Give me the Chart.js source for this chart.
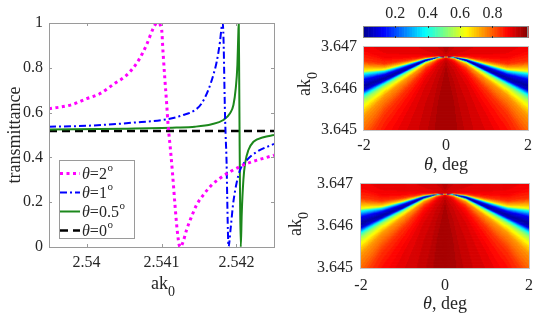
<!DOCTYPE html>
<html><head><meta charset="utf-8">
<script src="https://cdn.jsdelivr.net/npm/chart.js@4.4.0/dist/chart.umd.min.js"></script>
<style>
html,body{margin:0;padding:0;background:#fff;}
#wrap{position:relative;width:556px;height:326px;overflow:hidden;background:#fff;}
#wrap canvas{position:absolute;left:0;top:0;width:556px;height:326px;}
</style></head><body>
<div id="wrap">
<canvas id="cLine" width="556" height="326"></canvas>
<canvas id="cHeatTop" width="556" height="326"></canvas>
<canvas id="cHeatBot" width="556" height="326"></canvas>
<canvas id="cBar" width="556" height="326"></canvas>
</div>
<script>
// ---------------- Left panel: transmittance vs ak0 ----------------
const akTicks = [2.54, 2.541, 2.542];
const akTickLabels = ['2.54', '2.541', '2.542'];
const tTicks = [0, 0.2, 0.4, 0.6, 0.8, 1];
const tTickLabels = ['0', '0.2', '0.4', '0.6', '0.8', '1'];
const legendAngles = ['2', '1', '0.5', '0'];

const akTheta2 = [2.5395, 2.5398, 2.5400, 2.54017, 2.54038, 2.54051, 2.54062, 2.54071, 2.54080, 2.54089, 2.54094, 2.54100, 2.54102, 2.541044, 2.541067, 2.541088, 2.54112, 2.541147, 2.541178, 2.541209, 2.541236, 2.541254, 2.541289, 2.541334, 2.5414, 2.541468, 2.541557, 2.541669, 2.54178, 2.541914, 2.542048, 2.542182, 2.54236, 2.5425];
const tTheta2 = [0.617, 0.635, 0.662, 0.683, 0.731, 0.760, 0.798, 0.842, 0.902, 0.976, 1.0, 0.976, 0.872, 0.753, 0.649, 0.545, 0.433, 0.329, 0.195, 0.076, 0.009, 0.0, 0.024, 0.076, 0.135, 0.188, 0.232, 0.277, 0.307, 0.336, 0.359, 0.378, 0.396, 0.410];

const akTheta1 = [2.5395, 2.5400, 2.54062, 2.54107, 2.54129, 2.54145, 2.541535, 2.541624, 2.541691, 2.541736, 2.54178, 2.541803, 2.541817, 2.54183, 2.541838, 2.541847, 2.541855, 2.541868, 2.541876, 2.541885, 2.541894, 2.54192, 2.541956, 2.542, 2.542048, 2.542138, 2.542272, 2.5425];
const tTheta1 = [0.537, 0.541, 0.555, 0.570, 0.589, 0.612, 0.641, 0.701, 0.768, 0.827, 0.917, 0.985, 1.0, 0.887, 0.738, 0.589, 0.5, 0.374, 0.225, 0.076, 0.0, 0.076, 0.195, 0.284, 0.344, 0.388, 0.425, 0.460];

const akTheta05 = [2.5395, 2.5405, 2.5412, 2.541446, 2.541669, 2.541825, 2.541914, 2.541959, 2.54199, 2.542012, 2.542025, 2.54203, 2.542036, 2.542042, 2.542048, 2.542057, 2.54207, 2.542092, 2.542115, 2.542159, 2.542226, 2.54236, 2.5425];
const tTheta05 = [0.525, 0.528, 0.533, 0.537, 0.548, 0.567, 0.597, 0.634, 0.708, 0.813, 0.961, 1.0, 0.75, 0.45, 0.2, 0.0, 0.15, 0.30, 0.374, 0.433, 0.47, 0.49, 0.50];

const akTheta0 = [2.5395, 2.5425];
const tTheta0 = [0.518, 0.518];

// ---------------- Right panels: maps T(theta, ak0) ----------------
const thetaTicks = [-2, 0, 2];
const thetaTickLabels = ['-2', '0', '2'];
const mapAkTicks = [3.645, 3.646, 3.647];
const mapAkTickLabels = ['3.645', '3.646', '3.647'];
// dip (blue band) position and width read along theta
const mapTheta = [-2, -1.5, -1, -0.5, -0.2, 0, 0.2, 0.5, 1, 1.5, 2];
const mapDipAk = [3.64608, 3.646264, 3.646476, 3.646688, 3.64676, 3.64678, 3.64676, 3.646688, 3.646476, 3.646264, 3.64608];
const mapDipWidth = [0.00012, 0.00007, 0.000042, 0.000016, 0.000005, 0.000001, 0.000005, 0.000016, 0.000042, 0.00007, 0.00012];
// transmittance across the dip (offset in dip widths, + = larger ak0)
const mapProfileU = [-1e6, -300, -80, -30, -18, -12, -7.8, -6.1, -4.8, -3.8, -2.8, -2.1, -1.5, -0.8, 0, 1.2, 1.9, 2.4, 2.9, 3.5, 4.2, 4.9, 7.2, 10.5, 21, 100, 1e6];
const mapProfileT = [1.0, 0.985, 0.95, 0.92, 0.88, 0.84, 0.77, 0.74, 0.68, 0.62, 0.55, 0.45, 0.3, 0.07, 0.02, 0.11, 0.27, 0.38, 0.62, 0.7, 0.77, 0.84, 0.9, 0.92, 0.93, 0.96, 0.99];

// colour bar
const cbTicks = [0.2, 0.4, 0.6, 0.8];
const cbTickLabels = ['0.2', '0.4', '0.6', '0.8'];
const cbRange = [0, 1.02];
const jetStops = [0, 0.125, 0.375, 0.625, 0.875, 1];
const jetRGB = [[0,0,143],[0,0,255],[0,255,255],[255,255,0],[255,0,0],[128,0,0]];

// ---------------- helpers ----------------
const FONT = "'Liberation Serif', 'Times New Roman', serif";
const TXT = '#262626';
const FRAME = '#9a9a9a';
Chart.defaults.font.family = FONT;
Chart.defaults.font.size = 16;
Chart.defaults.color = TXT;
const TICKFONT = { family: FONT, size: 16 };

function interp(xs, ys, x) {
  if (x <= xs[0]) return ys[0];
  const n = xs.length;
  if (x >= xs[n-1]) return ys[n-1];
  for (let i = 1; i < n; i++) {
    if (x <= xs[i]) { const t = (x - xs[i-1]) / (xs[i] - xs[i-1]); return ys[i-1] + t * (ys[i] - ys[i-1]); }
  }
  return ys[n-1];
}
function jetColor(v) {
  let c = (v - cbRange[0]) / (cbRange[1] - cbRange[0]);
  c = Math.min(1, Math.max(0, c));
  const q = (Math.min(63, Math.floor(c * 64)) + 0.5) / 64;
  let i = 1;
  while (i < jetStops.length - 1 && q > jetStops[i]) i++;
  const t = (q - jetStops[i-1]) / (jetStops[i] - jetStops[i-1]);
  const a = jetRGB[i-1], b = jetRGB[i];
  return 'rgb(' + Math.round(a[0] + t*(b[0]-a[0])) + ',' + Math.round(a[1] + t*(b[1]-a[1])) + ',' + Math.round(a[2] + t*(b[2]-a[2])) + ')';
}
function pts(xs, ys) { return xs.map((x, i) => ({x: x, y: ys[i]})); }
function setTicks(vals) { return s => { s.ticks = vals.map(v => ({value: v})); }; }
function fixW(w) { return s => { s.width = w; }; }
function fixH(h) { return s => { s.height = h; }; }

function drawRich(ctx, pieces, cx, cy, rotate) {
  ctx.save();
  ctx.translate(cx, cy);
  if (rotate) ctx.rotate(-Math.PI / 2);
  let total = 0;
  const ws = pieces.map(p => { ctx.font = p.font; const w = ctx.measureText(p.t).width; total += w; return w; });
  let x = -total / 2;
  ctx.textBaseline = 'alphabetic'; ctx.textAlign = 'left'; ctx.fillStyle = TXT;
  pieces.forEach((p, i) => { ctx.font = p.font; ctx.fillText(p.t, x, p.dy || 0); x += ws[i]; });
  ctx.restore();
}
const F18 = "18px " + FONT, F18I = "italic 18px " + FONT, F14 = "14px " + FONT;
const F16 = "16px " + FONT, F16I = "italic 16px " + FONT, F11 = "11px " + FONT;

// ---------------- left chart ----------------
const framePlugin = {
  id: 'frameTicks',
  afterDatasetsDraw(chart) {
    const {ctx, chartArea: a, scales: {x, y}} = chart;
    ctx.save();
    ctx.strokeStyle = FRAME; ctx.lineWidth = 1;
    ctx.strokeRect(Math.round(a.left) + 0.5, Math.round(a.top) + 0.5, Math.round(a.right - a.left), Math.round(a.bottom - a.top));
    ctx.beginPath();
    akTicks.forEach(v => { const px = Math.round(x.getPixelForValue(v)) + 0.5; ctx.moveTo(px, a.bottom); ctx.lineTo(px, a.bottom - 3); ctx.moveTo(px, a.top); ctx.lineTo(px, a.top + 3); });
    tTicks.forEach(v => { const py = Math.round(y.getPixelForValue(v)) + 0.5; ctx.moveTo(a.left, py); ctx.lineTo(a.left + 3, py); ctx.moveTo(a.right, py); ctx.lineTo(a.right - 3, py); });
    ctx.stroke();
    ctx.restore();
  },
  afterDraw(chart) {
    const ctx = chart.ctx;
    ctx.save();
    const L = 59, T = 160, R = 134, B = 238;
    ctx.fillStyle = '#fff'; ctx.fillRect(L, T, R - L, B - T);
    ctx.strokeStyle = FRAME; ctx.lineWidth = 1; ctx.strokeRect(L + 0.5, T + 0.5, R - L, B - T);
    chart.data.datasets.forEach((ds, i) => {
      const y = 173.5 + i * 19;
      ctx.beginPath(); ctx.setLineDash(ds.borderDash || []); ctx.lineWidth = ds.borderWidth; ctx.strokeStyle = ds.borderColor; ctx.lineCap = 'butt';
      ctx.moveTo(60, y); ctx.lineTo(80, y); ctx.stroke(); ctx.setLineDash([]);
      let x = 82;
      ctx.fillStyle = TXT; ctx.textBaseline = 'middle'; ctx.textAlign = 'left';
      ctx.font = F16I; ctx.fillText('θ', x, y + 1); x += ctx.measureText('θ').width;
      const s = '=' + legendAngles[i];
      ctx.font = F16; ctx.fillText(s, x, y + 1); x += ctx.measureText(s).width;
      ctx.font = F11; ctx.fillText('o', x + 0.5, y - 5);
    });
    ctx.restore();
    drawRich(ctx, [{t: 'transmittance', font: F18}], 20, 135, true);
    drawRich(ctx, [{t: 'ak', font: F18}, {t: '0', font: F14, dy: 7}], 163, 289, false);
  }
};

new Chart(document.getElementById('cLine'), {
  type: 'line',
  data: { datasets: [
    { label: 'θ=2°', data: pts(akTheta2, tTheta2), borderColor: '#ff00ff', borderWidth: 3, borderDash: [3, 3.5] },
    { label: 'θ=1°', data: pts(akTheta1, tTheta1), borderColor: '#0000ff', borderWidth: 2, borderDash: [7, 3, 2, 3] },
    { label: 'θ=0.5°', data: pts(akTheta05, tTheta05), borderColor: '#1c881c', borderWidth: 2, borderDash: [] },
    { label: 'θ=0°', data: pts(akTheta0, tTheta0), borderColor: '#000000', borderWidth: 2.5, borderDash: [8, 5] }
  ]},
  options: {
    responsive: false, animation: false, events: [], devicePixelRatio: 1,
    layout: { padding: { left: 0, top: 23, right: 282, bottom: 0 } },
    plugins: { legend: { display: false }, tooltip: { enabled: false } },
    elements: { point: { radius: 0 }, line: { cubicInterpolationMode: 'monotone', fill: false } },
    scales: {
      x: { type: 'linear', min: 2.5395, max: 2.5425, afterFit: fixH(79), afterBuildTicks: setTicks(akTicks),
           ticks: { callback: (v, i) => akTickLabels[i], padding: 6, font: TICKFONT, color: TXT, maxRotation: 0, autoSkip: false },
           grid: { display: false, drawTicks: false }, border: { display: false } },
      y: { type: 'linear', min: 0, max: 1, afterFit: fixW(49), afterBuildTicks: setTicks(tTicks),
           ticks: { callback: (v, i) => tTickLabels[i], padding: 6, font: TICKFONT, color: TXT, autoSkip: false },
           grid: { display: false, drawTicks: false }, border: { display: false } }
    }
  },
  plugins: [framePlugin]
});

// ---------------- maps ----------------
function mapPlugin(titleCfg) {
  return {
    id: 'mapCells',
    beforeDatasetsDraw(chart) {
      const {ctx, chartArea: a, scales: {x, y}} = chart;
      ctx.save();
      ctx.beginPath(); ctx.rect(a.left, a.top, a.right - a.left, a.bottom - a.top); ctx.clip();
      const nT = 164, nK = 110;
      const dT = (x.max - x.min) / nT, dK = (y.max - y.min) / nK;
      for (let i = 0; i < nT; i++) {
        const th0 = x.min + i * dT, th1 = th0 + dT, thc = th0 + dT / 2;
        const c = interp(mapTheta, mapDipAk, thc), w = interp(mapTheta, mapDipWidth, thc);
        const px0 = x.getPixelForValue(th0), px1 = x.getPixelForValue(th1);
        for (let j = 0; j < nK; j++) {
          const k0 = y.min + j * dK, k1 = k0 + dK, kc = k0 + dK / 2;
          const u = (kc - c) / w;
          ctx.fillStyle = jetColor(interp(mapProfileU, mapProfileT, u));
          const py0 = y.getPixelForValue(k0), py1 = y.getPixelForValue(k1);
          ctx.fillRect(px0, py1, px1 - px0 + 0.6, py0 - py1 + 0.6);
        }
      }
      ctx.restore();
      ctx.save();
      ctx.strokeStyle = '#c4c4c4'; ctx.lineWidth = 1;
      ctx.strokeRect(Math.round(a.left) - 0.5, Math.round(a.top) - 0.5, Math.round(a.right - a.left) + 1, Math.round(a.bottom - a.top) + 1);
      ctx.restore();
    },
    afterDraw(chart) {
      const ctx = chart.ctx;
      drawRich(ctx, [{t: 'ak', font: F18}, {t: '0', font: F14, dy: 7}], titleCfg.ylx, titleCfg.yly, true);
      drawRich(ctx, [{t: 'θ', font: F18I}, {t: ', deg', font: F18}], titleCfg.xlx, titleCfg.xly, false);
    }
  };
}
function mapChart(id, area, xPad, yPad, titleCfg) {
  return new Chart(document.getElementById(id), {
    type: 'scatter',
    data: { datasets: [] },
    options: {
      responsive: false, animation: false, events: [], devicePixelRatio: 1,
      layout: { padding: { left: area.left - 60, top: area.top, right: 556 - area.right, bottom: 326 - area.bottom - 30 } },
      plugins: { legend: { display: false }, tooltip: { enabled: false } },
      scales: {
        x: { type: 'linear', min: -2, max: 2, afterFit: fixH(30), afterBuildTicks: setTicks(thetaTicks),
             ticks: { callback: (v, i) => thetaTickLabels[i], padding: xPad, font: TICKFONT, color: TXT, maxRotation: 0, autoSkip: false },
             grid: { display: false, drawTicks: false }, border: { display: false } },
        y: { type: 'linear', min: 3.645, max: 3.647, afterFit: fixW(60), afterBuildTicks: setTicks(mapAkTicks),
             ticks: { callback: (v, i) => mapAkTickLabels[i], padding: yPad, font: TICKFONT, color: TXT, autoSkip: false },
             grid: { display: false, drawTicks: false }, border: { display: false } }
      }
    },
    plugins: [mapPlugin(titleCfg)]
  });
}
mapChart('cHeatTop', {left: 364, top: 47, right: 528, bottom: 130}, 6, 7, {ylx: 310, yly: 84, xlx: 446, xly: 170});
mapChart('cHeatBot', {left: 361, top: 184, right: 529, bottom: 268}, 8, 8, {ylx: 301, yly: 224, xlx: 445, xly: 309});

// ---------------- colour bar ----------------
new Chart(document.getElementById('cBar'), {
  type: 'scatter',
  data: { datasets: [] },
  options: {
    responsive: false, animation: false, events: [], devicePixelRatio: 1,
    layout: { padding: { left: 363, top: 0, right: 28, bottom: 288 } },
    plugins: { legend: { display: false }, tooltip: { enabled: false } },
    scales: {
      x: { type: 'linear', position: 'top', min: cbRange[0], max: cbRange[1], afterFit: fixH(26), afterBuildTicks: setTicks(cbTicks),
           ticks: { callback: (v, i) => cbTickLabels[i], padding: 3, font: TICKFONT, color: TXT, maxRotation: 0, autoSkip: false },
           grid: { display: false, drawTicks: false }, border: { display: false } },
      y: { display: false, min: 0, max: 1 }
    }
  },
  plugins: [{
    id: 'cbCells',
    beforeDatasetsDraw(chart) {
      const {ctx, chartArea: a, scales: {x}} = chart;
      ctx.save();
      const n = 64, d = (cbRange[1] - cbRange[0]) / n;
      for (let i = 0; i < n; i++) {
        const v0 = cbRange[0] + i * d, v1 = v0 + d;
        const p0 = x.getPixelForValue(v0), p1 = x.getPixelForValue(v1);
        ctx.fillStyle = jetColor(v0 + d / 2);
        ctx.fillRect(p0, a.top, p1 - p0 + 0.6, a.bottom - a.top);
      }
      ctx.strokeStyle = '#8a8a8a'; ctx.lineWidth = 1;
      ctx.strokeRect(Math.round(a.left) + 0.5, Math.round(a.top) + 0.5, Math.round(a.right - a.left) - 1, Math.round(a.bottom - a.top) - 1);
      ctx.strokeStyle = '#333'; ctx.beginPath();
      cbTicks.forEach(v => { const px = Math.round(x.getPixelForValue(v)) + 0.5; ctx.moveTo(px, a.top); ctx.lineTo(px, a.top + 2); ctx.moveTo(px, a.bottom); ctx.lineTo(px, a.bottom - 2); });
      ctx.stroke();
      ctx.restore();
    }
  }]
});
</script>
</body></html>
